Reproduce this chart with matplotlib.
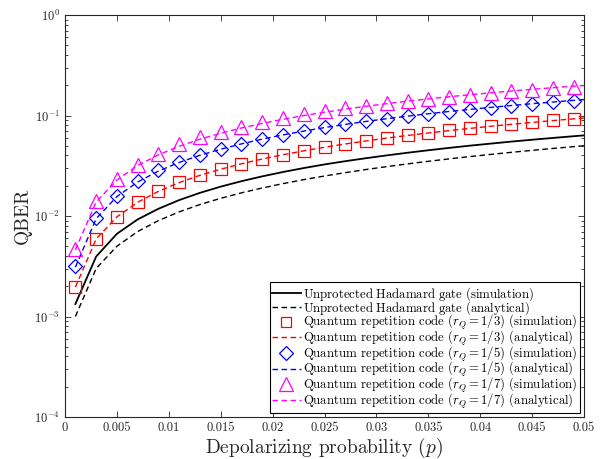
import numpy as np
import matplotlib
matplotlib.use("Agg")
import matplotlib.pyplot as plt
from matplotlib.ticker import LogLocator, NullFormatter

plt.rcParams['font.family'] = ['cmr10', 'DejaVu Serif']
plt.rcParams['mathtext.fontset'] = 'cm'
plt.rcParams['axes.formatter.use_mathtext'] = True

# depolarizing probability (markers at odd thousandths, lines reach 0.05)
p_sim = [0.001, 0.003, 0.005, 0.007, 0.009, 0.011, 0.013, 0.015, 0.017, 0.019,
         0.021, 0.023, 0.025, 0.027, 0.029, 0.031, 0.033, 0.035, 0.037, 0.039,
         0.041, 0.043, 0.045, 0.047, 0.049]
p_line = p_sim + [0.05]

had_sim = [0.00133, 0.00395, 0.00665, 0.00925, 0.0118, 0.0144, 0.0170, 0.0196, 0.0222, 0.0248,
           0.0274, 0.0300, 0.0326, 0.0351, 0.0376, 0.0401, 0.0426, 0.0451, 0.0476, 0.0501,
           0.0525, 0.0550, 0.0574, 0.0598, 0.0622, 0.0634]
had_ana = [0.00100, 0.00300, 0.00500, 0.00700, 0.00900, 0.0110, 0.0130, 0.0150, 0.0170, 0.0190,
           0.0210, 0.0230, 0.0250, 0.0270, 0.0290, 0.0310, 0.0330, 0.0350, 0.0370, 0.0390,
           0.0410, 0.0430, 0.0450, 0.0470, 0.0490, 0.0500]

r3_sim = [0.00195, 0.0059, 0.0098, 0.0137, 0.0176, 0.0218, 0.0256, 0.0294, 0.0332, 0.0370,
          0.0408, 0.0447, 0.0485, 0.0522, 0.0560, 0.0598, 0.0635, 0.0672, 0.0710, 0.0747,
          0.0784, 0.0820, 0.0857, 0.0893, 0.0930]
r3_ana = [0.00196, 0.0059, 0.0098, 0.0137, 0.0176, 0.0215, 0.0254, 0.0292, 0.0331, 0.0369,
          0.0407, 0.0445, 0.0483, 0.0521, 0.0558, 0.0596, 0.0633, 0.0670, 0.0707, 0.0744,
          0.0781, 0.0817, 0.0854, 0.0890, 0.0926, 0.0944]

r5_sim = [0.0032, 0.0096, 0.0159, 0.0222, 0.0285, 0.0346, 0.0406, 0.0466, 0.0526, 0.0585,
          0.0646, 0.0707, 0.0765, 0.0822, 0.0878, 0.0933, 0.0988, 0.1041, 0.1094, 0.1146,
          0.1197, 0.1248, 0.1298, 0.1347, 0.1395]
r5_ana = [0.0031, 0.0094, 0.0156, 0.0218, 0.0280, 0.0341, 0.0402, 0.0462, 0.0522, 0.0582,
          0.0641, 0.0700, 0.0758, 0.0816, 0.0873, 0.0929, 0.0985, 0.1041, 0.1096, 0.1150,
          0.1204, 0.1257, 0.1310, 0.1362, 0.1414, 0.1440]

r7_sim = [0.0047, 0.0141, 0.0232, 0.0323, 0.0414, 0.0518, 0.0606, 0.0690, 0.0776, 0.0860,
          0.0945, 0.1035, 0.1105, 0.1180, 0.1255, 0.1330, 0.1400, 0.1470, 0.1540, 0.1610,
          0.1675, 0.1740, 0.1805, 0.1870, 0.1930]
r7_ana = [0.0046, 0.0138, 0.0228, 0.0318, 0.0406, 0.0494, 0.0581, 0.0666, 0.0751, 0.0834,
          0.0917, 0.0998, 0.1078, 0.1157, 0.1235, 0.1312, 0.1388, 0.1463, 0.1537, 0.1609,
          0.1681, 0.1752, 0.1821, 0.1890, 0.1958, 0.1990]

xtick_vals = [0, 0.005, 0.01, 0.015, 0.02, 0.025, 0.03, 0.035, 0.04, 0.045, 0.05]
xtick_labels = ['0', '0.005', '0.01', '0.015', '0.02', '0.025', '0.03', '0.035', '0.04', '0.045', '0.05']

fig = plt.figure(figsize=(6.08, 4.59), dpi=100)
ax = fig.add_axes([65 / 608, 1 - 417 / 459, (584 - 65) / 608, (417 - 15) / 459])

ax.plot(p_line, had_sim, '-', color='k', lw=1.3,
        label=r'$\mathrm{Unprotected\ Hadamard\ gate\ (simulation)}$')
ax.plot(p_line, had_ana, '--', color='k', lw=1.0, dashes=(4, 2.5),
        label=r'$\mathrm{Unprotected\ Hadamard\ gate\ (analytical)}$')
ax.plot(p_sim, r3_sim, 's', mfc='none', mec='red', ms=8.5, mew=0.9, ls='none',
        label=r'Quantum repetition code ($r_Q=1/3$) (simulation)')
ax.plot(p_line, r3_ana, '--', color='red', lw=1.0, dashes=(4, 2.5),
        label=r'Quantum repetition code ($r_Q=1/3$) (analytical)')
ax.plot(p_sim, r5_sim, 'D', mfc='none', mec='blue', ms=7.5, mew=0.9, ls='none',
        label=r'Quantum repetition code ($r_Q=1/5$) (simulation)')
ax.plot(p_line, r5_ana, '--', color='blue', lw=1.0, dashes=(4, 2.5),
        label=r'Quantum repetition code ($r_Q=1/5$) (analytical)')
ax.plot(p_sim, r7_sim, '^', mfc='none', mec='magenta', ms=10.5, mew=0.9, ls='none',
        label=r'Quantum repetition code ($r_Q=1/7$) (simulation)')
ax.plot(p_line, r7_ana, '--', color='magenta', lw=1.0, dashes=(4, 2.5),
        label=r'Quantum repetition code ($r_Q=1/7$) (analytical)')

ax.set_yscale('log')
ax.set_ylim(1e-4, 1)
ax.set_xlim(0, 0.05)
ax.set_xticks(xtick_vals)
ax.set_xticklabels(xtick_labels)
ax.yaxis.set_major_locator(LogLocator(base=10, numticks=10))
ax.yaxis.set_minor_locator(LogLocator(base=10, subs=np.arange(2, 10), numticks=10))
ax.yaxis.set_minor_formatter(NullFormatter())
ax.tick_params(which='both', direction='in', top=True, right=True, labelsize=9, colors='#262626')
ax.tick_params(which='major', length=4.5, width=0.6)
ax.tick_params(which='minor', length=2.5, width=0.6)
for s in ax.spines.values():
    s.set_linewidth(0.8)
    s.set_color('#262626')

ax.set_xlabel('Depolarizing probability ($p$)', fontsize=14, color='#262626', labelpad=1)
ax.set_ylabel('QBER', fontsize=14, color='#262626', labelpad=2)

leg = ax.legend(loc='lower right', fontsize=9.2, frameon=True, fancybox=False,
                edgecolor='k', framealpha=1, borderpad=0.2, labelspacing=-0.27,
                handlelength=2.2, handletextpad=0.2, borderaxespad=0.3)
leg.get_frame().set_linewidth(0.8)
for h in leg.legend_handles:
    if h.get_marker() not in ('None', None, ''):
        h.set_markersize(h.get_markersize() * 0.9)

fig.savefig('out.png', dpi=100)
